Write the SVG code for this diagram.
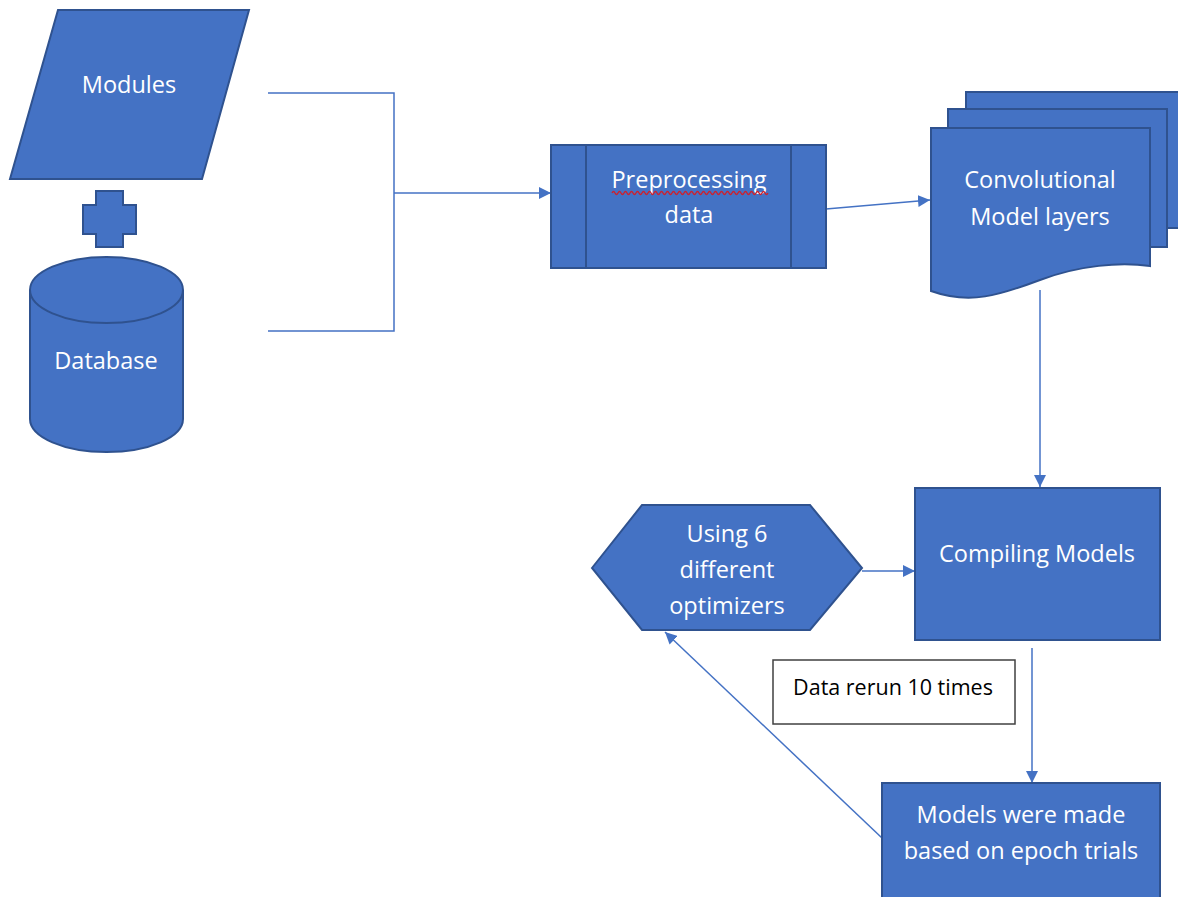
<svg xmlns="http://www.w3.org/2000/svg" width="1178" height="897" viewBox="0 0 1178 897">
<style>
.shape{fill:#4472C4;stroke:#2F528F;stroke-width:2}
.lbl{font-family:"Open Sans",Lato,"Liberation Sans",sans-serif;font-size:23.5px;fill:#FFFFFF;text-anchor:middle}
.conn{fill:none;stroke:#4472C4;stroke-width:1.5}
.note{font-family:"Open Sans",Lato,"Liberation Sans",sans-serif;font-size:21.5px;fill:#000000;text-anchor:middle}
</style>
<defs>
<marker id="arr" viewBox="0 0 10 10" refX="10" refY="5" markerWidth="12" markerHeight="12" markerUnits="userSpaceOnUse" orient="auto">
<path d="M0,0 L10,5 L0,10 Z" fill="#4472C4"/>
</marker>
</defs>
<rect width="1178" height="897" fill="#FFFFFF"/>
<g id="connectors">
<path class="conn" d="M268,93 H394 V331 H268"/>
<path class="conn" d="M394,193 H551" marker-end="url(#arr)"/>
<path class="conn" d="M826,209 L930,200" marker-end="url(#arr)"/>
<path class="conn" d="M1040,290 V487" marker-end="url(#arr)"/>
<path class="conn" d="M862,571 H915" marker-end="url(#arr)"/>
<path class="conn" d="M1032,648 V783" marker-end="url(#arr)"/>
<path class="conn" d="M882,838 L665,632" marker-end="url(#arr)"/>
</g>
<g id="modules">
<polygon class="shape" points="58,10 249,10 202,179 10,179"/>
<text class="lbl" x="129" y="93">Modules</text>
</g>
<g id="plus">
<polygon class="shape" points="96,191 123,191 123,205 136,205 136,234 123,234 123,247 96,247 96,234 83,234 83,205 96,205"/>
</g>
<g id="database">
<path class="shape" d="M30,290 A76.5,33 0 0 1 183,290 V419 A76.5,33 0 0 1 30,419 Z"/>
<path class="shape" d="M30,290 A76.5,33 0 0 0 183,290" fill="none"/>
<text class="lbl" x="106" y="369">Database</text>
</g>
<g id="preprocessing">
<rect class="shape" x="551" y="145" width="275" height="123"/>
<line x1="586" y1="145" x2="586" y2="268" stroke="#2F528F" stroke-width="2"/>
<line x1="791" y1="145" x2="791" y2="268" stroke="#2F528F" stroke-width="2"/>
<text class="lbl" x="689" y="188">Preprocessing</text>
<path d="M612,193 q1.5,-3 3,0 t3,0 t3,0 t3,0 t3,0 t3,0 t3,0 t3,0 t3,0 t3,0 t3,0 t3,0 t3,0 t3,0 t3,0 t3,0 t3,0 t3,0 t3,0 t3,0 t3,0 t3,0 t3,0 t3,0 t3,0 t3,0 t3,0 t3,0 t3,0 t3,0 t3,0 t3,0 t3,0 t3,0 t3,0 t3,0 t3,0 t3,0 t3,0 t3,0 t3,0 t3,0 t3,0 t3,0 t3,0 t3,0 t3,0 t3,0 t3,0 t3,0 t3,0 t3,0" fill="none" stroke="#D0202A" stroke-width="1.3"/>
<text class="lbl" x="689" y="223">data</text>
</g>
<g id="convolutional">
<path class="shape" d="M966,92 H1190 V228 H966 Z"/>
<path class="shape" d="M948,109 H1167 V247 H948 Z"/>
<path class="shape" d="M931,128 H1150 V266 C1120,262 1080,265 1040,280 C1000,295 970,305 931,291 Z"/>
<text class="lbl" x="1040" y="188">Convolutional</text>
<text class="lbl" x="1040" y="225">Model layers</text>
</g>
<g id="compiling">
<rect class="shape" x="915" y="488" width="245" height="152"/>
<text class="lbl" x="1037" y="562">Compiling Models</text>
</g>
<g id="optimizers">
<polygon class="shape" points="592,568 642,505 810,505 862,568 810,630 642,630"/>
<text class="lbl" x="727" y="542">Using 6</text>
<text class="lbl" x="727" y="578">different</text>
<text class="lbl" x="727" y="614">optimizers</text>
</g>
<g id="note">
<rect x="773" y="660" width="242" height="64" fill="#FFFFFF" stroke="#404040" stroke-width="1.5"/>
<text class="note" x="893" y="695">Data rerun 10 times</text>
</g>
<g id="models">
<rect class="shape" x="882" y="783" width="278" height="130"/>
<text class="lbl" x="1021" y="823">Models were made</text>
<text class="lbl" x="1021" y="859">based on epoch trials</text>
</g>
</svg>
